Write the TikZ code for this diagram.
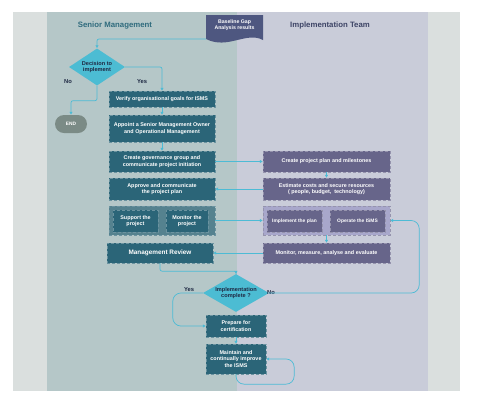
\documentclass[tikz,border=0pt]{standalone}
\usepackage{fontspec}
\setmainfont{Liberation Sans}
\usetikzlibrary{shapes.geometric, arrows.meta, positioning}
\definecolor{pagegray}{HTML}{DADFDE}
\definecolor{laneleft}{HTML}{B5C7C8}
\definecolor{laneright}{HTML}{C9CCD9}
\definecolor{tealbox}{HTML}{2B6578}
\definecolor{tealcont}{HTML}{55828F}
\definecolor{purplebox}{HTML}{67658A}
\definecolor{purplecont}{HTML}{A8A7CB}
\definecolor{linecyan}{HTML}{4DBBD5}
\definecolor{diamcyan}{HTML}{4CBCD3}
\definecolor{endgray}{HTML}{7B8B86}
\definecolor{docblue}{HTML}{4E5780}
\definecolor{titleteal}{HTML}{2F6B7D}
\definecolor{titleslate}{HTML}{3D4466}
\definecolor{labelnavy}{HTML}{1F2A44}
\tikzset{
  Arrow1/.style = {
    draw = linecyan, line width = 0.7pt,
    -{Latex[length = 3pt, width = 3.4pt]},
  },
  SeniorBox/.style = {
    rectangle, fill = tealbox, draw = white!30!tealbox, densely dashed, line width = 0.3pt,
    text = white, font = \fontsize{5.4}{6.6}\selectfont\bfseries, align = center,
    inner sep = 1pt, minimum width = 106pt,
  },
  TeamBox/.style = {
    SeniorBox, fill = purplebox, draw = white!30!purplebox, minimum width = 127pt,
  },
  Decision/.style = {
    diamond, fill = diamcyan, text = labelnavy, font = \fontsize{5.6}{6.8}\selectfont\bfseries,
    align = center, inner sep = 0pt, aspect = 1.6,
  },
  LaneTitle/.style = {font = \fontsize{7.8}{9}\selectfont\bfseries},
  Answer/.style = {text = labelnavy, font = \fontsize{5.8}{7}\selectfont\bfseries},
}

\begin{document}
\begin{tikzpicture}[x = 1pt, y = -1pt]
  \useasboundingbox (0,0) rectangle (480,408);
  % swimlanes
  \fill[pagegray] (13,12) rectangle (460,391);
  \fill[laneleft] (47,12) rectangle (237,391);
  \fill[laneright] (237,12) rectangle (428,391);
  \node[LaneTitle, text = titleteal] (senior) at (115,25) {Senior Management};
  \node[LaneTitle, text = titleslate] (team) at (330,25) {Implementation Team};

  % input document
  \fill[docblue] (206,15) -- (263,15) -- (263,40)
    .. controls (246,31) and (228,50) .. (206,39) -- cycle;
  \node[text = white, font = \fontsize{5.2}{6.4}\selectfont\bfseries, align = center]
    (baseline) at (234.5,25) {Baseline Gap\\Analysis results};
  \coordinate (baseout) at (206,39);

  % senior management
  \node[Decision, minimum width = 56pt, minimum height = 37pt] (decide) at (97,67) {Decision to\\implement};
  \node[rectangle, rounded corners = 9pt, fill = endgray, text = white,
    font = \fontsize{4.8}{5.5}\selectfont\bfseries, minimum width = 32pt, minimum height = 18pt]
    (finish) at (71,124) {END};
  \node[SeniorBox, minimum height = 16pt] (verify) at (162,99) {Verify organisational goals for ISMS};
  \node[SeniorBox, minimum height = 27pt] (appoint) at (162,128.5) {Appoint a Senior Management Owner\\and Operational Management};
  \node[SeniorBox, minimum height = 21pt] (govern) at (162,161.5) {Create governance group and\\communicate project initiation};
  \node[SeniorBox, minimum height = 22pt] (approve) at (162,189) {Approve and communicate\\the project plan};
  \node[SeniorBox, fill = tealcont, minimum height = 29pt] (supportgroup) at (162,220.5) {};
  \node[SeniorBox, minimum width = 45pt, minimum height = 22pt] (support) at (135.5,221) {Support the\\project};
  \node[SeniorBox, minimum width = 42pt, minimum height = 22pt] (monitor) at (187,221) {Monitor the\\project};
  \node[SeniorBox, minimum height = 20pt, font = \fontsize{6.4}{7.5}\selectfont\bfseries] (review) at (160,253) {Management Review};

  % implementation team
  \node[TeamBox, minimum height = 21pt] (plan) at (326.5,161.5) {Create project plan and milestones};
  \node[TeamBox, minimum height = 22pt] (estimate) at (326.5,189) {Estimate costs and secure resources\\( people, budget,\ \ technology)};
  \node[TeamBox, fill = purplecont, minimum height = 29pt] (implgroup) at (326.5,220.5) {};
  \node[TeamBox, minimum width = 55pt, minimum height = 22pt, font = \fontsize{4.9}{5.8}\selectfont\bfseries] (implement) at (294.5,221) {Implement the plan};
  \node[TeamBox, minimum width = 55pt, minimum height = 22pt, font = \fontsize{4.9}{5.8}\selectfont\bfseries] (operate) at (357.5,221) {Operate the ISMS};
  \node[TeamBox, minimum height = 20pt] (measure) at (326.5,253) {Monitor, measure, analyse and evaluate};

  % certification
  \node[Decision, minimum width = 66pt, minimum height = 37pt] (complete) at (236,293) {Implementation\\complete ?};
  \node[SeniorBox, minimum width = 60pt, minimum height = 22pt] (prepare) at (236,326) {Prepare for\\certification};
  \node[SeniorBox, minimum width = 60pt, minimum height = 30pt] (maintain) at (236,359) {Maintain and\\continually improve\\the ISMS};

  \node[Answer] (no1) at (68,82) {No};
  \node[Answer] (yes1) at (142,82) {Yes};
  \node[Answer] (yes2) at (189,290) {Yes};
  \node[Answer] (no2) at (271,293) {No};

  % connectors
  \draw[Arrow1, rounded corners = 2pt] (baseout) -| (decide.north);
  \draw[Arrow1, rounded corners = 2pt] (decide.east) -| (verify.north);
  \draw[Arrow1, rounded corners = 2pt] (decide.south) -- ++(0,15) -| (finish.north);
  \draw[Arrow1] (verify) -- (appoint);
  \draw[Arrow1] (appoint) -- (govern);
  \draw[Arrow1] (govern) -- (plan);
  \draw[Arrow1] (plan) -- (estimate);
  \draw[Arrow1] (estimate) -- (approve);
  \draw[Arrow1] (supportgroup) -- (implgroup);
  \draw[Arrow1] (implgroup) -- (measure);
  \draw[Arrow1] (measure) -- (review);
  \draw[Arrow1, rounded corners = 2pt] (review.south) -- ++(0,8) -| (complete.north);
  \draw[Arrow1, rounded corners = 8pt] (complete.east) -- ++(150,0) |- (implgroup.east);
  \draw[Arrow1, rounded corners = 8pt] (complete.west) -- ++(-30,0) |- (prepare.west);
  \draw[Arrow1] (prepare) -- (maintain);
  \draw[Arrow1, rounded corners = 8pt] (maintain.south) |- ([xshift = 28pt, yshift = -10pt]maintain.south east) |- (maintain.east);
\end{tikzpicture}
\end{document}
